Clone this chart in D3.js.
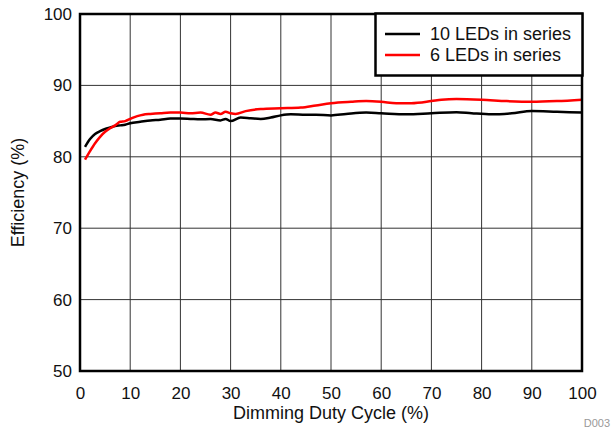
<!DOCTYPE html>
<html>
<head>
<meta charset="utf-8">
<script src="https://cdn.jsdelivr.net/npm/d3@7"></script>
<style>
  body { margin: 0; background: #fff; }
  text { font-family: "Liberation Sans", Arial, sans-serif; }
</style>
</head>
<body>
<div id="chart"></div>
<script>
const width = 613;
const height = 430;

// Dimming duty cycle (%)
const dutyTen = [1, 2, 3, 4, 5, 6, 7, 8, 9, 10, 12, 14, 16, 18, 20, 22, 24, 26, 28, 29, 30, 32, 34, 36, 38, 40, 42, 45, 47, 50, 53, 57, 60, 65, 70, 75, 78, 82, 86, 90, 95, 100];
const effTen = [81.4, 82.5, 83.2, 83.6, 83.9, 84.1, 84.3, 84.4, 84.5, 84.7, 84.9, 85.1, 85.2, 85.35, 85.35, 85.3, 85.25, 85.3, 85.1, 85.3, 85.0, 85.5, 85.4, 85.3, 85.5, 85.8, 85.95, 85.9, 85.9, 85.8, 86.0, 86.2, 86.1, 85.95, 86.1, 86.25, 86.1, 85.95, 86.1, 86.4, 86.3, 86.2];

const dutySix = [1, 2, 3, 4, 5, 6, 7, 8, 9, 10, 11, 12, 13, 14, 16, 18, 20, 22, 24, 26, 27, 28, 29, 30, 31, 33, 36, 40, 44, 47, 50, 54, 57, 60, 63, 66, 70, 72, 75, 80, 85, 90, 95, 100];
const effSix = [79.6, 80.8, 81.9, 82.8, 83.5, 84.0, 84.4, 84.9, 85.0, 85.3, 85.6, 85.8, 85.95, 86.0, 86.1, 86.2, 86.2, 86.1, 86.2, 85.9, 86.2, 86.0, 86.3, 86.1, 86.0, 86.4, 86.7, 86.8, 86.9, 87.2, 87.5, 87.7, 87.8, 87.7, 87.5, 87.5, 87.8, 88.0, 88.1, 88.0, 87.8, 87.7, 87.8, 88.0];

const xTicks = [0, 10, 20, 30, 40, 50, 60, 70, 80, 90, 100];
const yTicks = [50, 60, 70, 80, 90, 100];
const seriesNames = ["10 LEDs in series", "6 LEDs in series"];
const seriesColors = ["#000000", "#ff0000"];

const margin = { left: 80, top: 14, right: 31, bottom: 59 };

const svg = d3.select("#chart")
    .append("svg")
    .attr("width", width)
    .attr("height", height);

const x = d3.scaleLinear().domain([0, 100]).range([margin.left, width - margin.right]);
const y = d3.scaleLinear().domain([50, 100]).range([height - margin.bottom, margin.top]);

// Grid
const grid = svg.append("g");
grid.selectAll("line.vx")
    .data(xTicks)
    .join("line")
    .attr("x1", d => x(d)).attr("x2", d => x(d))
    .attr("y1", y(50)).attr("y2", y(100))
    .attr("stroke", "#333")
    .attr("stroke-width", 1);
grid.selectAll("line.hy")
    .data(yTicks)
    .join("line")
    .attr("x1", x(0)).attr("x2", x(100))
    .attr("y1", d => y(d)).attr("y2", d => y(d))
    .attr("stroke", "#333")
    .attr("stroke-width", 1);

// Axes (labels only)
const xAxis = svg.append("g")
    .attr("transform", `translate(0,${y(50)})`)
    .call(d3.axisBottom(x).tickValues(xTicks).tickSize(0).tickPadding(16));
const yAxis = svg.append("g")
    .attr("transform", `translate(${x(0)},0)`)
    .call(d3.axisLeft(y).tickValues(yTicks).tickSize(0).tickPadding(8));
[xAxis, yAxis].forEach(a => {
    a.select(".domain").remove();
    a.selectAll("text")
        .attr("font-family", "'Liberation Sans', Arial, sans-serif")
        .attr("font-size", 17)
        .attr("fill", "#111");
});

// Lines
const line = d3.line().x(d => x(d[0])).y(d => y(d[1])).curve(d3.curveMonotoneX);
const dataTen = dutyTen.map((d, i) => [d, effTen[i]]);
const dataSix = dutySix.map((d, i) => [d, effSix[i]]);

svg.append("path")
    .datum(dataTen)
    .attr("fill", "none")
    .attr("stroke", seriesColors[0])
    .attr("stroke-width", 2.5)
    .attr("d", line);
svg.append("path")
    .datum(dataSix)
    .attr("fill", "none")
    .attr("stroke", seriesColors[1])
    .attr("stroke-width", 2.5)
    .attr("d", line);

// Frame
svg.append("rect")
    .attr("x", x(0)).attr("y", y(100))
    .attr("width", x(100) - x(0))
    .attr("height", y(50) - y(100))
    .attr("fill", "none")
    .attr("stroke", "#000")
    .attr("stroke-width", 2.5);

// Legend
const legend = svg.append("g");
legend.append("rect")
    .attr("x", 375.5).attr("y", 13.5)
    .attr("width", 207).attr("height", 62)
    .attr("fill", "#fff")
    .attr("stroke", "#000")
    .attr("stroke-width", 2.5);
seriesNames.forEach((name, i) => {
    const ly = 34 + i * 21;
    legend.append("line")
        .attr("x1", 385).attr("x2", 420)
        .attr("y1", ly).attr("y2", ly)
        .attr("stroke", seriesColors[i])
        .attr("stroke-width", 2.5);
    legend.append("text")
        .attr("x", 430).attr("y", ly)
        .attr("dy", "0.35em")
        .attr("font-size", 18)
        .attr("fill", "#111")
        .text(name);
});

// Axis titles
svg.append("text")
    .attr("x", (x(0) + x(100)) / 2)
    .attr("y", 419)
    .attr("text-anchor", "middle")
    .attr("font-size", 18)
    .attr("fill", "#111")
    .text("Dimming Duty Cycle (%)");
svg.append("text")
    .attr("transform", `translate(24,${(y(50) + y(100)) / 2}) rotate(-90)`)
    .attr("text-anchor", "middle")
    .attr("font-size", 18)
    .attr("fill", "#111")
    .text("Efficiency (%)");

svg.append("text")
    .attr("x", 610)
    .attr("y", 427)
    .attr("text-anchor", "end")
    .attr("font-size", 11)
    .attr("fill", "#999")
    .text("D003");
</script>
</body>
</html>
